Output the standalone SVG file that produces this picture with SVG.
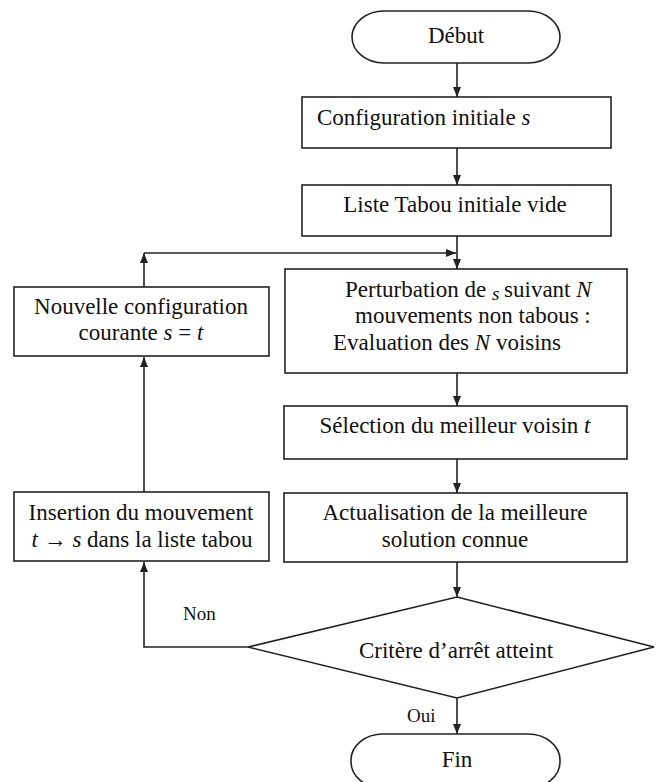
<svg xmlns="http://www.w3.org/2000/svg" width="656" height="782" viewBox="0 0 656 782">
<style>
  .shape { fill: #ffffff; stroke: #222222; stroke-width: 1.6; }
  .conn { fill: none; stroke: #222222; stroke-width: 1.6; }
  .t { font-family: "Liberation Serif", "Times New Roman", serif; font-size: 23px; fill: #111111; }
  .c { text-anchor: middle; }
  .i { font-style: italic; }
  .lbl { font-family: "Liberation Serif", "Times New Roman", serif; font-size: 19px; fill: #111111; }
</style>
<defs>
  <marker id="arr" viewBox="0 0 10 10" refX="10" refY="5" markerWidth="10" markerHeight="10" markerUnits="userSpaceOnUse" orient="auto">
    <path d="M0,1 L10,5 L0,9 Z" fill="#222222"/>
  </marker>
</defs>
<rect width="656" height="782" fill="#ffffff"/>

<g id="connectors">
  <line class="conn" x1="457" y1="63" x2="457" y2="97" marker-end="url(#arr)"/>
  <line class="conn" x1="457" y1="148" x2="457" y2="185" marker-end="url(#arr)"/>
  <line class="conn" x1="457" y1="236" x2="457" y2="269" marker-end="url(#arr)"/>
  <line class="conn" x1="144" y1="287" x2="144" y2="253" marker-end="url(#arr)"/>
  <line class="conn" x1="144" y1="253" x2="456" y2="253" marker-end="url(#arr)"/>
  <line class="conn" x1="457" y1="373" x2="457" y2="406" marker-end="url(#arr)"/>
  <line class="conn" x1="457" y1="459" x2="457" y2="493" marker-end="url(#arr)"/>
  <line class="conn" x1="457" y1="562" x2="457" y2="597" marker-end="url(#arr)"/>
  <line class="conn" x1="457" y1="698" x2="457" y2="734" marker-end="url(#arr)"/>
  <path class="conn" d="M248,647 H144 V562" marker-end="url(#arr)"/>
  <line class="conn" x1="144" y1="492" x2="144" y2="357" marker-end="url(#arr)"/>
  <text class="lbl" x="183" y="620">Non</text>
  <text class="lbl" x="407" y="722">Oui</text>
</g>

<g id="debut">
  <rect class="shape" x="352" y="11" width="208" height="52" rx="32" ry="26"/>
  <text class="t c" x="456" y="43">Début</text>
</g>

<g id="config">
  <rect class="shape" x="302" y="97" width="309" height="51"/>
  <text class="t" x="317" y="125">Configuration initiale <tspan class="i">s</tspan></text>
</g>

<g id="liste">
  <rect class="shape" x="302" y="185" width="309" height="51"/>
  <text class="t c" x="455" y="212">Liste Tabou initiale vide</text>
</g>

<g id="perturbation">
  <rect class="shape" x="285" y="269" width="342" height="104"/>
  <text class="t" x="345" y="297">Perturbation de <tspan class="i" dy="3" font-size="19"> s </tspan><tspan dy="-3"> suivant </tspan><tspan class="i">N</tspan></text>
  <text class="t" x="355" y="323">mouvements non tabous :</text>
  <text class="t" x="333" y="350">Evaluation des <tspan class="i">N</tspan> voisins</text>
</g>

<g id="nouvelle">
  <rect class="shape" x="14" y="287" width="255" height="69"/>
  <text class="t c" x="141" y="314">Nouvelle configuration</text>
  <text class="t c" x="141" y="340">courante <tspan class="i">s</tspan> = <tspan class="i">t</tspan></text>
</g>

<g id="selection">
  <rect class="shape" x="284" y="406" width="343" height="53"/>
  <text class="t c" x="455" y="433">Sélection du meilleur voisin <tspan class="i">t</tspan></text>
</g>

<g id="actualisation">
  <rect class="shape" x="284" y="493" width="343" height="69"/>
  <text class="t c" x="455" y="520">Actualisation de la meilleure</text>
  <text class="t c" x="455" y="547">solution connue</text>
</g>

<g id="insertion">
  <rect class="shape" x="14" y="492" width="255" height="69"/>
  <text class="t c" x="141" y="520">Insertion du mouvement</text>
  <text class="t c" x="142" y="547"><tspan class="i">t</tspan> → <tspan class="i">s</tspan> dans la liste tabou</text>
</g>

<g id="critere">
  <polygon class="shape" points="457,597 654,647 457,698 248,647"/>
  <text class="t c" x="456" y="658">Critère d’arrêt atteint</text>
</g>

<g id="fin">
  <rect class="shape" x="351" y="734" width="209" height="54" rx="32" ry="26"/>
  <text class="t c" x="457" y="767">Fin</text>
</g>
</svg>
